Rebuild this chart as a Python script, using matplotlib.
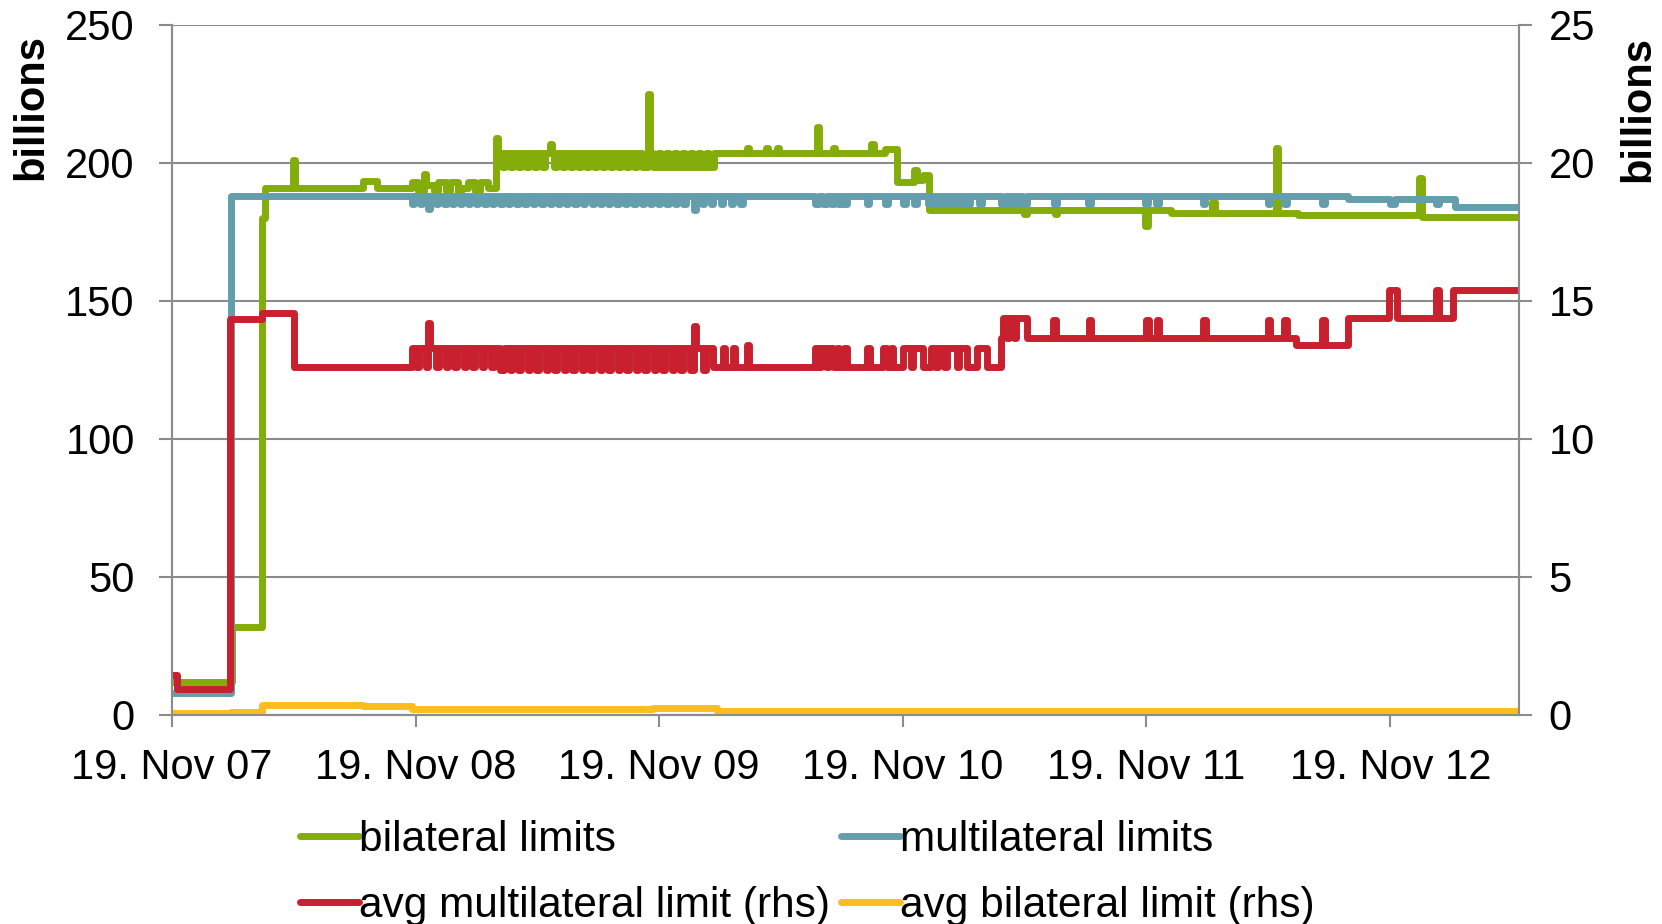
import matplotlib
matplotlib.use("Agg")
import matplotlib.pyplot as plt
import pandas as pd

plt.rcParams['font.family'] = ['Liberation Sans', 'DejaVu Sans']

# ---------------- data ----------------
# bilateral limits (lhs, billions)
green_dates = [
    "2007-11-19", "2008-02-18", "2008-04-02", "2008-04-07", "2008-05-19", "2008-05-22",
    "2008-09-01", "2008-09-22", "2008-11-14", "2008-11-22", "2008-12-02", "2008-12-05",
    "2008-12-16", "2008-12-22", "2009-01-04", "2009-01-10", "2009-01-22", "2009-01-26",
    "2009-02-06", "2009-02-16", "2009-02-24", "2009-03-08", "2009-03-19", "2009-03-22",
    "2009-03-29", "2009-04-02", "2009-04-09", "2009-04-14", "2009-04-21", "2009-04-26",
    "2009-05-03", "2009-05-08", "2009-05-15", "2009-05-20", "2009-05-27", "2009-06-01",
    "2009-06-08", "2009-06-11", "2009-06-14", "2009-06-19", "2009-06-26", "2009-07-01",
    "2009-07-08", "2009-07-13", "2009-07-20", "2009-07-25", "2009-08-01", "2009-08-06",
    "2009-08-13", "2009-08-18", "2009-08-25", "2009-08-30", "2009-09-06", "2009-09-11",
    "2009-09-18", "2009-09-23", "2009-09-30", "2009-10-05", "2009-10-12", "2009-10-17",
    "2009-10-24", "2009-11-02", "2009-11-05", "2009-11-10", "2009-11-17", "2009-11-22",
    "2009-11-29", "2009-12-04", "2009-12-11", "2009-12-16", "2009-12-23", "2009-12-28",
    "2010-01-04", "2010-01-09", "2010-01-16", "2010-01-21", "2010-01-28", "2010-02-02",
    "2010-02-09", "2010-02-14", "2010-03-30", "2010-04-02", "2010-04-28", "2010-05-01",
    "2010-05-14", "2010-05-17", "2010-07-13", "2010-07-16", "2010-08-06", "2010-08-09",
    "2010-10-03", "2010-10-07", "2010-10-24", "2010-11-11", "2010-12-06", "2010-12-10",
    "2010-12-20", "2010-12-29", "2011-05-20", "2011-05-24", "2011-07-05", "2011-07-09",
    "2011-11-18", "2011-11-22", "2011-12-26", "2012-02-26", "2012-03-01", "2012-05-31",
    "2012-06-04", "2012-07-03", "2013-01-01", "2013-01-05", "2013-02-24", "2013-05-31",
]
green_vals = [
    12.0, 32.0, 180.0, 191.0, 201.0, 191.0,
    193.5, 191.0, 193.0, 190.0, 196.0, 192.0,
    190.0, 193.0, 190.0, 193.0, 187.0, 191.0,
    193.0, 190.0, 193.0, 191.0, 209.0, 203.5,
    198.5, 203.5, 198.5, 203.5, 198.5, 203.5,
    198.5, 203.5, 198.5, 203.5, 198.5, 203.5,
    207.0, 203.5, 198.5, 203.5, 198.5, 203.5,
    198.5, 203.5, 198.5, 203.5, 198.5, 203.5,
    198.5, 203.5, 198.5, 203.5, 198.5, 203.5,
    198.5, 203.5, 198.5, 203.5, 198.5, 203.5,
    198.5, 225.0, 203.5, 198.5, 203.5, 198.5,
    203.5, 198.5, 203.5, 198.5, 203.5, 198.5,
    203.5, 198.5, 203.5, 198.5, 203.5, 198.5,
    203.5, 203.5, 205.5, 203.5, 205.5, 203.5,
    205.5, 203.5, 213.0, 203.5, 205.5, 203.5,
    207.0, 203.5, 205.0, 193.0, 197.5, 194.0,
    195.5, 183.0, 181.5, 183.0, 181.5, 183.0,
    177.0, 183.0, 182.0, 186.0, 182.0, 205.5,
    182.0, 181.0, 194.6, 180.5, 180.5, 180.5,
]

# multilateral limits (lhs, billions)
blue_dates = [
    "2007-11-19", "2008-02-16",
    "2008-11-14", "2008-11-17", "2008-11-25", "2008-11-28", "2008-12-08", "2008-12-11",
    "2008-12-19", "2008-12-22", "2009-01-01", "2009-01-05", "2009-01-12", "2009-01-15",
    "2009-01-24", "2009-01-28", "2009-02-06", "2009-02-09", "2009-02-18", "2009-02-21",
    "2009-03-02", "2009-03-06", "2009-03-14", "2009-03-17", "2009-03-26", "2009-03-30",
    "2009-04-07", "2009-04-10", "2009-04-19", "2009-04-23", "2009-05-01", "2009-05-05",
    "2009-05-14", "2009-05-17", "2009-05-26", "2009-05-30", "2009-06-08", "2009-06-11",
    "2009-06-20", "2009-06-24", "2009-07-03", "2009-07-06", "2009-07-15", "2009-07-19",
    "2009-07-28", "2009-07-31", "2009-08-10", "2009-08-13", "2009-08-22", "2009-08-26",
    "2009-09-04", "2009-09-07", "2009-09-16", "2009-09-20", "2009-09-29", "2009-10-02",
    "2009-10-11", "2009-10-15", "2009-10-24", "2009-10-27", "2009-11-05", "2009-11-09",
    "2009-11-18", "2009-11-21", "2009-11-30", "2009-12-04", "2009-12-13", "2009-12-16",
    "2009-12-25", "2009-12-29", "2010-01-10", "2010-01-13", "2010-01-22", "2010-01-25",
    "2010-02-04", "2010-02-07", "2010-02-20", "2010-02-23", "2010-03-06", "2010-03-09",
    "2010-03-20", "2010-03-24",
    "2010-07-11", "2010-07-16", "2010-07-22", "2010-07-28", "2010-08-03", "2010-08-08",
    "2010-08-14", "2010-08-18", "2010-08-23", "2010-08-27", "2010-09-26", "2010-09-29",
    "2010-10-24", "2010-10-28", "2010-11-20", "2010-11-24", "2010-12-06", "2010-12-10",
    "2010-12-27", "2010-12-31", "2011-01-04", "2011-01-08", "2011-01-13", "2011-01-17",
    "2011-01-22", "2011-01-26", "2011-02-01", "2011-02-05", "2011-02-12", "2011-02-16",
    "2011-02-24", "2011-02-28", "2011-03-14", "2011-03-18", "2011-04-16", "2011-04-21",
    "2011-04-27", "2011-05-02", "2011-05-10", "2011-05-14", "2011-05-19", "2011-05-24",
    "2011-07-04", "2011-07-08", "2011-08-24", "2011-08-28", "2011-11-18", "2011-11-22",
    "2011-12-04", "2011-12-08", "2012-02-12", "2012-02-16", "2012-05-19", "2012-05-23",
    "2012-06-13", "2012-06-17", "2012-08-09", "2012-08-13", "2012-09-16",
    "2012-11-19", "2012-11-26", "2013-01-27", "2013-01-31", "2013-02-24", "2013-05-31",
]
blue_vals = [
    8.0, 188.0,
    185.0, 188.0, 185.0, 188.0, 183.5, 188.0,
    185.0, 188.0, 185.0, 188.0, 185.0, 188.0,
    185.0, 188.0, 185.0, 188.0, 185.0, 188.0,
    185.0, 188.0, 185.0, 188.0, 185.0, 188.0,
    185.0, 188.0, 185.0, 188.0, 185.0, 188.0,
    185.0, 188.0, 185.0, 188.0, 185.0, 188.0,
    185.0, 188.0, 185.0, 188.0, 185.0, 188.0,
    185.0, 188.0, 185.0, 188.0, 185.0, 188.0,
    185.0, 188.0, 185.0, 188.0, 185.0, 188.0,
    185.0, 188.0, 185.0, 188.0, 185.0, 188.0,
    185.0, 188.0, 185.0, 188.0, 185.0, 188.0,
    185.0, 188.0, 183.0, 188.0, 185.0, 188.0,
    185.0, 188.0, 185.0, 188.0, 185.0, 188.0,
    185.0, 188.0,
    185.0, 188.0, 185.0, 188.0, 185.0, 188.0,
    185.0, 188.0, 185.0, 188.0, 185.0, 188.0,
    185.0, 188.0, 185.0, 188.0, 185.0, 188.0,
    185.0, 188.0, 185.0, 188.0, 185.0, 188.0,
    185.0, 188.0, 185.0, 188.0, 185.0, 188.0,
    185.0, 188.0, 185.0, 188.0, 185.0, 188.0,
    185.0, 188.0, 185.0, 188.0, 185.0, 188.0,
    185.0, 188.0, 185.0, 188.0, 185.0, 188.0,
    185.0, 188.0, 185.0, 188.0, 185.0, 188.0,
    185.0, 188.0, 185.0, 188.0, 187.0,
    185.0, 187.0, 185.0, 187.0, 184.0, 184.0,
]

# avg multilateral limit (rhs, billions)
red_dates = [
    "2007-11-19", "2007-11-27", "2008-02-15", "2008-04-02", "2008-05-20",
    "2008-11-14", "2008-11-20", "2008-11-24", "2008-12-04", "2008-12-08", "2008-12-11",
    "2008-12-20", "2008-12-24", "2009-01-03", "2009-01-07", "2009-01-16", "2009-01-20",
    "2009-01-30", "2009-02-03", "2009-02-12", "2009-02-16", "2009-02-26", "2009-03-02",
    "2009-03-12", "2009-03-16", "2009-03-26", "2009-03-31", "2009-04-09", "2009-04-13",
    "2009-04-22", "2009-04-26", "2009-05-06", "2009-05-10", "2009-05-19", "2009-05-23",
    "2009-06-02", "2009-06-06", "2009-06-15", "2009-06-19", "2009-06-29", "2009-07-03",
    "2009-07-12", "2009-07-16", "2009-07-26", "2009-07-30", "2009-08-08", "2009-08-12",
    "2009-08-22", "2009-08-26", "2009-09-04", "2009-09-08", "2009-09-18", "2009-09-22",
    "2009-10-01", "2009-10-05", "2009-10-15", "2009-10-19", "2009-10-28", "2009-11-01",
    "2009-11-11", "2009-11-15", "2009-11-24", "2009-11-28", "2009-12-08", "2009-12-12",
    "2009-12-21", "2009-12-25", "2010-01-04", "2010-01-11", "2010-01-14", "2010-01-24",
    "2010-01-28", "2010-02-08", "2010-02-23", "2010-02-26", "2010-03-09", "2010-03-12",
    "2010-03-31", "2010-04-03",
    "2010-07-11", "2010-07-15", "2010-07-19", "2010-07-27", "2010-07-31", "2010-08-06",
    "2010-08-12", "2010-08-16", "2010-08-23", "2010-08-27", "2010-09-27", "2010-10-01",
    "2010-10-21", "2010-10-26", "2010-11-01", "2010-11-05", "2010-11-20", "2010-12-01",
    "2010-12-05", "2010-12-19", "2010-12-31", "2011-01-07", "2011-01-11", "2011-01-20",
    "2011-01-24", "2011-02-08", "2011-02-12", "2011-02-23", "2011-03-11", "2011-03-26",
    "2011-04-15", "2011-04-18", "2011-04-24", "2011-04-27", "2011-05-05", "2011-05-08",
    "2011-05-25", "2011-07-03", "2011-07-07", "2011-08-25", "2011-08-29", "2011-11-19",
    "2011-11-23", "2011-12-05", "2011-12-09", "2012-02-13", "2012-02-17", "2012-05-19",
    "2012-05-23", "2012-06-13", "2012-06-17", "2012-06-30", "2012-08-09", "2012-08-13",
    "2012-09-16", "2012-11-17", "2012-11-29", "2013-01-27", "2013-01-31", "2013-02-21",
    "2013-05-31",
]
red_vals = [
    1.45, 0.95, 14.35, 14.55, 12.6,
    13.3, 12.6, 13.3, 12.6, 14.2, 13.3,
    12.6, 13.3, 12.6, 13.3, 12.6, 13.3,
    12.6, 13.3, 12.6, 13.3, 12.6, 13.3,
    12.6, 13.3, 12.5, 13.3, 12.5, 13.3,
    12.5, 13.3, 12.5, 13.3, 12.5, 13.3,
    12.5, 13.3, 12.5, 13.3, 12.5, 13.3,
    12.5, 13.3, 12.5, 13.3, 12.5, 13.3,
    12.5, 13.3, 12.5, 13.3, 12.5, 13.3,
    12.5, 13.3, 12.5, 13.3, 12.5, 13.3,
    12.5, 13.3, 12.5, 13.3, 12.5, 13.3,
    12.5, 13.3, 12.5, 14.1, 13.3, 12.5,
    13.3, 12.6, 13.3, 12.6, 13.3, 12.6,
    13.4, 12.6,
    13.3, 12.6, 13.3, 12.6, 13.3, 12.6,
    13.3, 12.6, 13.3, 12.6, 13.3, 12.6,
    13.3, 12.6, 13.3, 12.6, 13.3, 12.6,
    13.3, 12.6, 13.3, 12.6, 13.3, 12.6,
    13.3, 12.6, 13.3, 12.6, 13.3, 12.6,
    13.65, 14.4, 13.65, 14.4, 13.65, 14.4,
    13.65, 14.3, 13.65, 14.3, 13.65, 14.3,
    13.65, 14.3, 13.65, 14.3, 13.65, 14.3,
    13.65, 14.3, 13.65, 13.4, 14.3, 13.4,
    14.4, 15.4, 14.4, 15.4, 14.4, 15.4,
    15.4,
]

# avg bilateral limit (rhs, billions)
yellow_dates = ["2007-11-19", "2008-02-16", "2008-04-02", "2008-09-01", "2008-11-14",
                "2009-11-10", "2010-02-14", "2013-05-31"]
yellow_vals = [0.08, 0.12, 0.36, 0.31, 0.22, 0.25, 0.13, 0.12]

tick_dates = ["2007-11-19", "2008-11-19", "2009-11-19", "2010-11-19", "2011-11-19", "2012-11-19"]
tick_labels = ["19. Nov 07", "19. Nov 08", "19. Nov 09", "19. Nov 10", "19. Nov 11", "19. Nov 12"]
x_start, x_end = "2007-11-19", "2013-05-31"

labels = ["bilateral limits", "multilateral limits",
          "avg multilateral limit (rhs)", "avg bilateral limit (rhs)"]
colors = ["#84AC0A", "#649EAC", "#C8202E", "#FBBE1E"]

# ---------------- figure ----------------
W, H = 1662, 924
fig = plt.figure(figsize=(W / 100, H / 100), dpi=100)
ax = fig.add_axes([171.5 / W, 1 - 715 / H, (1519 - 171.5) / W, (715 - 25) / H])
ax2 = ax.twinx()

gray = "#8C8C8C"
lw = 5.0
kw = dict(drawstyle="steps-post", solid_joinstyle="round", solid_capstyle="round", lw=lw)

l1, = ax.plot(pd.to_datetime(green_dates), green_vals, color=colors[0], label=labels[0], **kw)
l2, = ax.plot(pd.to_datetime(blue_dates), blue_vals, color=colors[1], label=labels[1], **kw)
l3, = ax2.plot(pd.to_datetime(red_dates), red_vals, color=colors[2], label=labels[2], **kw)
l4, = ax2.plot(pd.to_datetime(yellow_dates), yellow_vals, color=colors[3], label=labels[3], **kw)

ax.set_xlim(pd.Timestamp(x_start), pd.Timestamp(x_end))
ax.set_ylim(0, 250)
ax2.set_ylim(0, 25)
ax.set_yticks([0, 50, 100, 150, 200, 250])
ax2.set_yticks([0, 5, 10, 15, 20, 25])
ax.set_xticks(pd.to_datetime(tick_dates))
ax.set_xticklabels(tick_labels)

ax.set_axisbelow(True)
ax.grid(axis="y", color=gray, lw=1.5)
ax.grid(axis="x", visible=False)

for a in (ax, ax2):
    for s in a.spines.values():
        s.set_color(gray)
        s.set_linewidth(1.5)
ax.spines["top"].set_visible(False)
ax2.spines["top"].set_visible(False)

ax.tick_params(axis="y", direction="out", length=9.4, width=1.5, color=gray,
               labelsize=30, pad=17, left=True, right=False)
ax2.tick_params(axis="y", direction="out", length=9.4, width=1.5, color=gray,
                labelsize=30, pad=12, left=False, right=True)
ax.tick_params(axis="x", direction="out", length=8.6, width=1.5, color=gray,
               labelsize=30, pad=15)

fig.text(31 / W, 1 - 107.5 / H, "billions", rotation=90, fontsize=30, fontweight="bold",
         ha="center", va="center")
fig.text(1638 / W, 1 - 108.5 / H, "billions", rotation=90, fontsize=30, fontweight="bold",
         ha="center", va="center")

leg = fig.legend([l1, l3, l2, l4], [labels[0], labels[2], labels[1], labels[3]],
                 ncol=2, loc="center left", bbox_to_anchor=(300 / W, 1 - 873 / H),
                 frameon=False, fontsize=30.5, handlelength=1.4, handletextpad=0.0,
                 columnspacing=0.25, labelspacing=0.62, borderpad=0, borderaxespad=0)

fig.savefig("out.png", dpi=100)
